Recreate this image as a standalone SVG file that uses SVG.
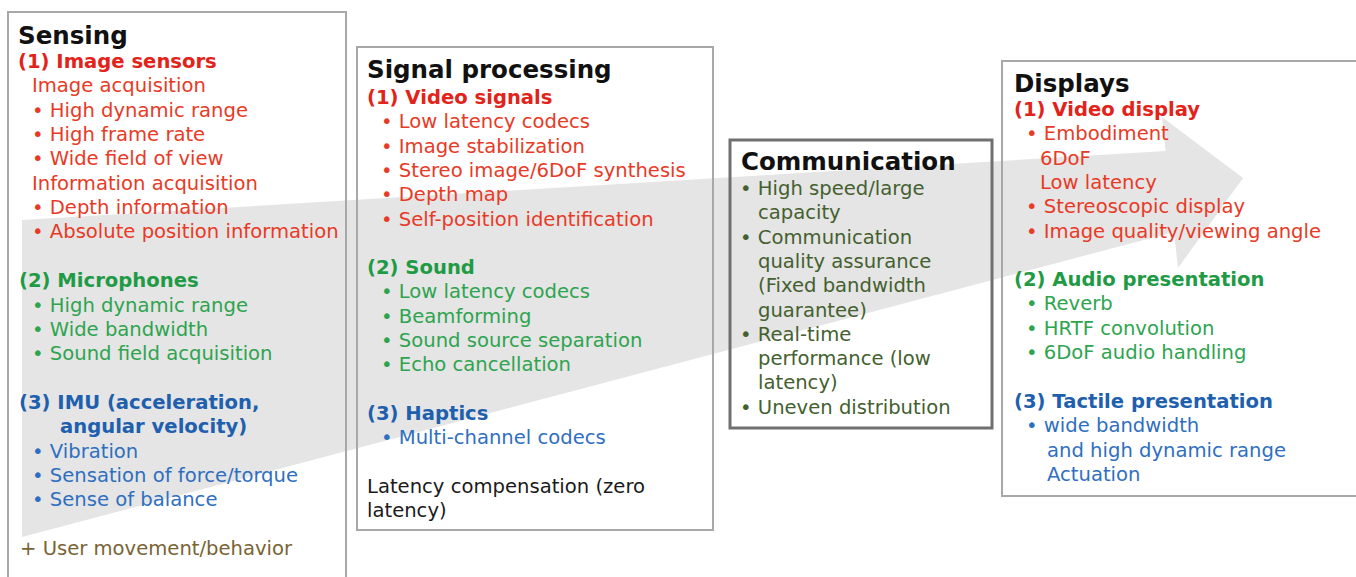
<svg xmlns="http://www.w3.org/2000/svg" width="1356" height="577" viewBox="0 0 1356 577">
  <style>
    text { font-family: "DejaVu Sans", Verdana, sans-serif; font-size: 19.6px; }
    .title { font-size: 24.5px; font-weight: bold; fill: #111111; }
    .h { font-weight: bold; }
    .red { fill: #e83a26; }
    .redh { fill: #e2231a; }
    .green { fill: #2ea44f; }
    .greenh { fill: #1f9a45; }
    .blue { fill: #2f6fbf; }
    .blueh { fill: #1e5fae; }
    .brown { fill: #7a6333; }
    .dkgreen { fill: #44602f; }
    .black { fill: #1a1a1a; }
    .box { fill: none; stroke: #a8a8a8; stroke-width: 2; }
    .box-strong { fill: none; stroke: #707070; stroke-width: 3; }
    .flow { fill: #e5e5e5; stroke: none; }
  </style>

  <rect x="0" y="0" width="1356" height="577" fill="#ffffff"/>

  <!-- broad flow arrow running behind all stages -->
  <g id="connectors">
    <polygon class="flow" points="22,220 1165.6,151 1162,117 1243,178 1178,268 1174,232 22,537"/>
  </g>

  <!-- Stage 1: sensing -->
  <g id="sensing">
    <rect class="box" x="8" y="12" width="338" height="580"/>
    <text class="title" x="18" y="44">Sensing</text>
    <text class="h redh" x="18" y="68">(1) Image sensors</text>
    <text class="red" x="32" y="92.3">Image acquisition</text>
    <text class="red" x="32" y="116.6">• High dynamic range</text>
    <text class="red" x="32" y="141">• High frame rate</text>
    <text class="red" x="32" y="165.3">• Wide field of view</text>
    <text class="red" x="32" y="189.6">Information acquisition</text>
    <text class="red" x="32" y="214">• Depth information</text>
    <text class="red" x="32" y="238.3">• Absolute position information</text>
    <text class="h greenh" x="19" y="287">(2) Microphones</text>
    <text class="green" x="32" y="311.5">• High dynamic range</text>
    <text class="green" x="32" y="335.8">• Wide bandwidth</text>
    <text class="green" x="32" y="360.1">• Sound field acquisition</text>
    <text class="h blueh" x="19" y="409">(3) IMU (acceleration,</text>
    <text class="h blueh" x="60" y="433.3">angular velocity)</text>
    <text class="blue" x="32" y="457.6">• Vibration</text>
    <text class="blue" x="32" y="481.9">• Sensation of force/torque</text>
    <text class="blue" x="32" y="506.2">• Sense of balance</text>
    <text class="brown" x="20" y="555">+ User movement/behavior</text>
  </g>

  <!-- Stage 2: signal processing -->
  <g id="signal-processing">
    <rect class="box" x="357" y="47" width="356" height="483"/>
    <text class="title" x="367" y="78">Signal processing</text>
    <text class="h redh" x="367" y="104">(1) Video signals</text>
    <text class="red" x="381" y="128.3">• Low latency codecs</text>
    <text class="red" x="381" y="152.6">• Image stabilization</text>
    <text class="red" x="381" y="177">• Stereo image/6DoF synthesis</text>
    <text class="red" x="381" y="201.2">• Depth map</text>
    <text class="red" x="381" y="225.5">• Self-position identification</text>
    <text class="h greenh" x="367" y="274">(2) Sound</text>
    <text class="green" x="381" y="298.3">• Low latency codecs</text>
    <text class="green" x="381" y="322.6">• Beamforming</text>
    <text class="green" x="381" y="347">• Sound source separation</text>
    <text class="green" x="381" y="371.2">• Echo cancellation</text>
    <text class="h blueh" x="367" y="419.7">(3) Haptics</text>
    <text class="blue" x="381" y="444">• Multi-channel codecs</text>
    <text class="black" x="367" y="492.5">Latency compensation (zero</text>
    <text class="black" x="367" y="516.8">latency)</text>
  </g>

  <!-- Stage 3: communication -->
  <g id="communication">
    <rect class="box-strong" x="730" y="140" width="262" height="288"/>
    <text class="title" x="741" y="170">Communication</text>
    <text class="dkgreen" x="740" y="195">• High speed/large</text>
    <text class="dkgreen" x="758" y="219.3">capacity</text>
    <text class="dkgreen" x="740" y="243.6">• Communication</text>
    <text class="dkgreen" x="758" y="267.9">quality assurance</text>
    <text class="dkgreen" x="758" y="292.2">(Fixed bandwidth</text>
    <text class="dkgreen" x="758" y="316.5">guarantee)</text>
    <text class="dkgreen" x="740" y="340.8">• Real-time</text>
    <text class="dkgreen" x="758" y="365.1">performance (low</text>
    <text class="dkgreen" x="758" y="389.4">latency)</text>
    <text class="dkgreen" x="740" y="413.7">• Uneven distribution</text>
  </g>

  <!-- Stage 4: displays -->
  <g id="displays">
    <rect class="box" x="1002" y="61" width="370" height="435"/>
    <text class="title" x="1014" y="92">Displays</text>
    <text class="h redh" x="1014" y="116">(1) Video display</text>
    <text class="red" x="1026" y="140.3">• Embodiment</text>
    <text class="red" x="1040" y="164.6">6DoF</text>
    <text class="red" x="1040" y="188.9">Low latency</text>
    <text class="red" x="1026" y="213.2">• Stereoscopic display</text>
    <text class="red" x="1026" y="237.5">• Image quality/viewing angle</text>
    <text class="h greenh" x="1014" y="286">(2) Audio presentation</text>
    <text class="green" x="1026" y="310.4">• Reverb</text>
    <text class="green" x="1026" y="334.7">• HRTF convolution</text>
    <text class="green" x="1026" y="359">• 6DoF audio handling</text>
    <text class="h blueh" x="1014" y="408">(3) Tactile presentation</text>
    <text class="blue" x="1026" y="432.3">• wide bandwidth</text>
    <text class="blue" x="1047" y="456.6">and high dynamic range</text>
    <text class="blue" x="1047" y="480.9">Actuation</text>
  </g>
</svg>
